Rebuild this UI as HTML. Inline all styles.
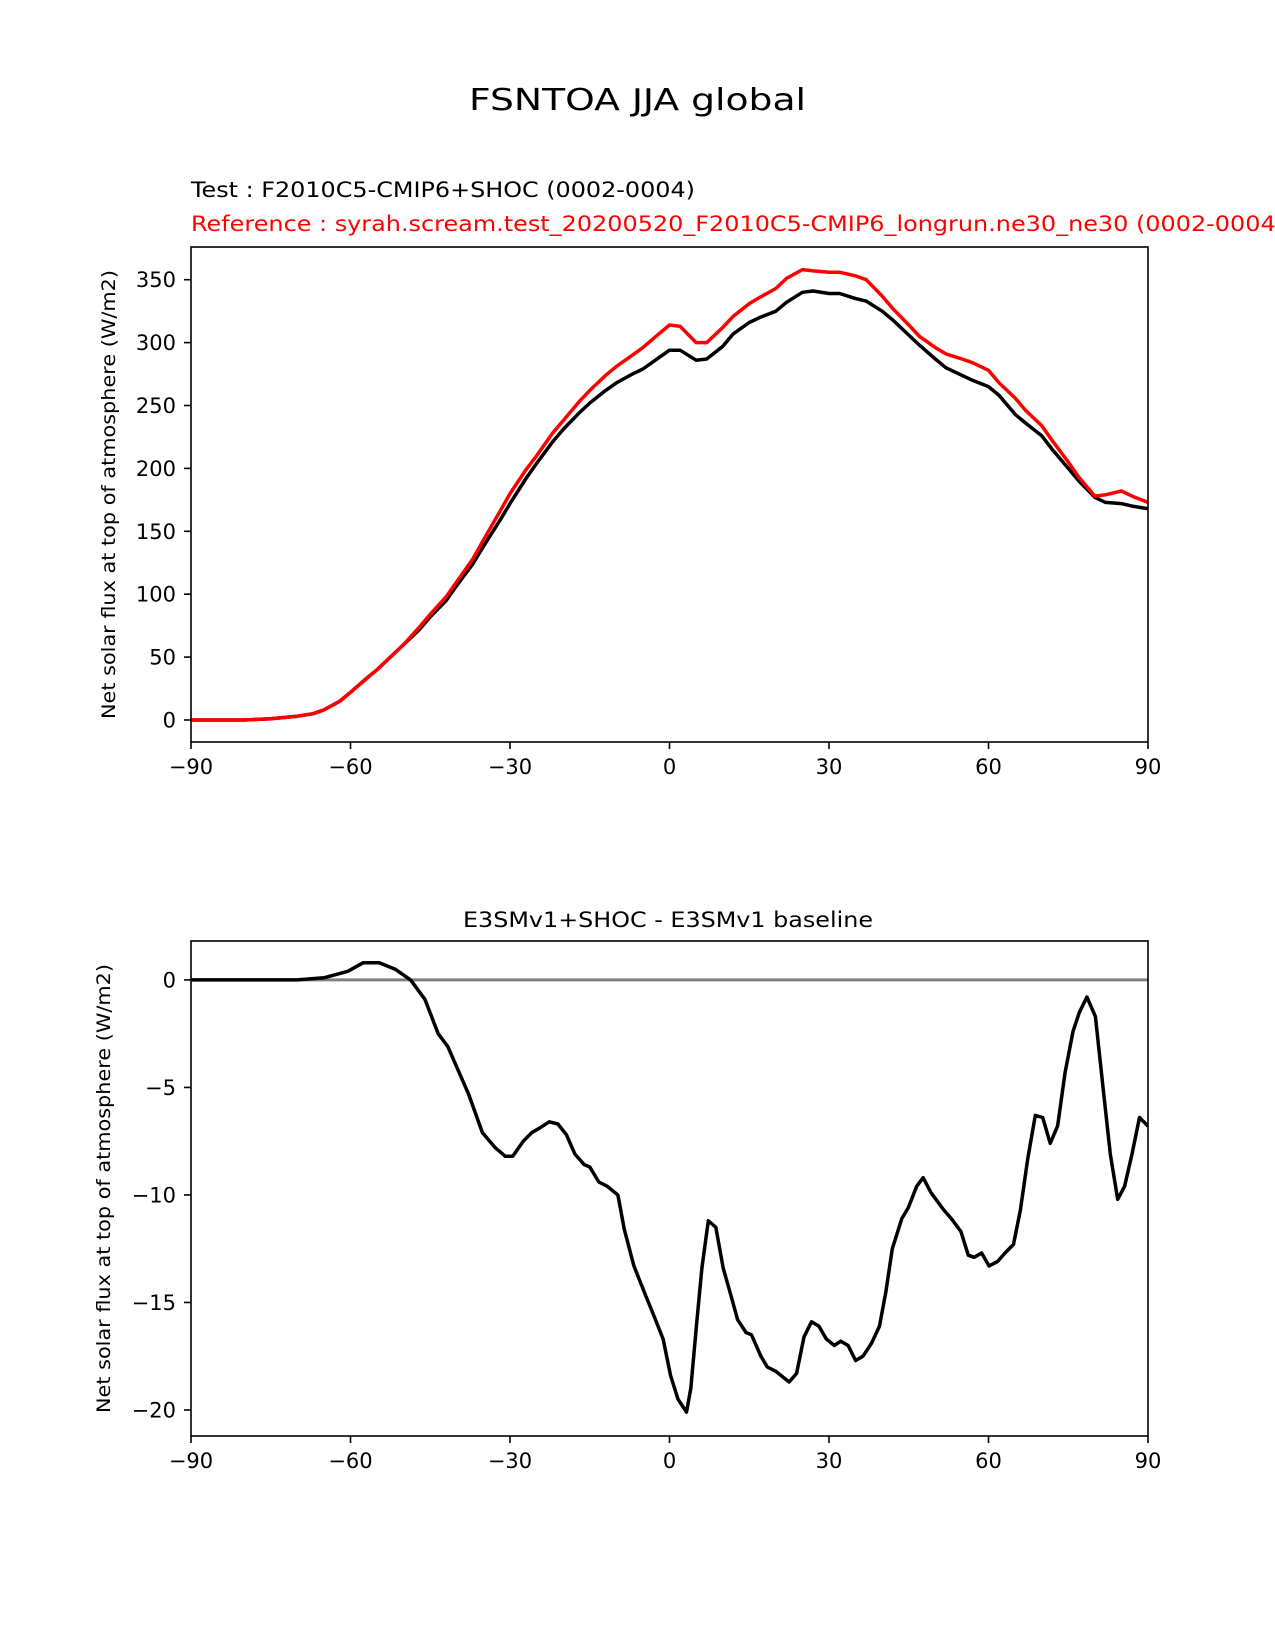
<!DOCTYPE html>
<html><head><meta charset="utf-8"><style>
html,body{margin:0;padding:0;background:#fff;}
svg{display:block;font-family:"DejaVu Sans","Liberation Sans",sans-serif;}
</style></head>
<body>
<svg id="fig" width="1275" height="1650" viewBox="0 0 1275 1650">
<text x="637.5" y="110" font-size="30" text-anchor="middle" textLength="337" lengthAdjust="spacingAndGlyphs">FSNTOA JJA global</text>
<text x="191" y="197" font-size="21" textLength="504" lengthAdjust="spacingAndGlyphs">Test : F2010C5-CMIP6+SHOC (0002-0004)</text>
<text x="191" y="231" font-size="21" fill="#ff0000" textLength="1094" lengthAdjust="spacingAndGlyphs">Reference : syrah.scream.test_20200520_F2010C5-CMIP6_longrun.ne30_ne30 (0002-0004)</text>
<text x="668" y="927" font-size="21" text-anchor="middle" textLength="410" lengthAdjust="spacingAndGlyphs">E3SMv1+SHOC - E3SMv1 baseline</text>
<g id="top"></g>
<g id="bot"></g>
</svg>
<script>
const latTop = [-90,-80,-75,-70,-67,-65,-62,-60,-57,-55,-52,-50,-47,-45,-42,-40,-37,-35,-32,-30,-27,-25,-22,-20,-17,-15,-12,-10,-7,-5,-2,0,2,5,7,10,12,15,17,20,22,25,27,30,32,35,37,40,42,45,47,50,52,55,57,60,62,65,67,70,72,75,77,80,82,85,87,90];
const testVals = [0,0,1,3,5,8,15,22,33,40,52,60,72,82,95,107,124,138,158,172,192,204,221,231,244,252,262,268,275,279,288,294,294,286,287,297,307,316,320,325,332,340,341,339,339,335,333,325,318,306,298,287,280,274,270,265,258,243,236,226,215,200,190,177,173,172,170,168];
const refVals = [0,0,1,3,5,8,15,22,33,40,52,60,74,84,98,110,128,143,165,180,199,210,228,238,253,262,274,281,290,296,307,314,313,300,300,312,321,331,336,343,351,358,357,356,356,353,350,337,327,314,305,296,291,287,284,278,268,256,246,234,222,205,193,178,179,182,178,173];
const latDiff = [-90,-70,-65,-60.5,-57.6,-54.6,-51.6,-48.7,-46,-43.5,-41.7,-37.8,-35.2,-32.8,-30.9,-29.5,-27.5,-25.9,-24.5,-22.6,-21,-19.4,-17.8,-16,-15,-13.3,-11.7,-9.7,-8.5,-6.7,-4.6,-2.8,-1.2,0.2,1.6,3.2,4,5.1,6.1,7.3,8.7,10.1,11.7,12.8,14.4,15.4,17.2,18.4,20,22.5,23.9,25.3,26.7,28.1,29.5,31,32.2,33.6,35,36.4,38,39.5,40.7,41.9,43.7,44.9,46.5,47.7,49.2,51.6,53,54.8,56.2,57.3,58.7,60.1,61.7,63.1,64.7,66,67.4,68.8,70.2,71.6,73,74.4,75.9,77.1,78.5,80.1,81.5,82.9,84.3,85.6,87,88.4,90];
const diffVals = [0,0,0.1,0.4,0.8,0.8,0.5,0,-0.9,-2.5,-3.1,-5.3,-7.1,-7.8,-8.2,-8.2,-7.5,-7.1,-6.9,-6.6,-6.7,-7.2,-8.1,-8.6,-8.7,-9.4,-9.6,-10,-11.6,-13.3,-14.6,-15.7,-16.7,-18.4,-19.5,-20.1,-19,-16,-13.4,-11.2,-11.5,-13.4,-14.8,-15.8,-16.4,-16.5,-17.5,-18,-18.2,-18.7,-18.3,-16.6,-15.9,-16.1,-16.7,-17,-16.8,-17,-17.7,-17.5,-16.9,-16.1,-14.5,-12.5,-11.1,-10.6,-9.6,-9.2,-9.9,-10.7,-11.1,-11.7,-12.8,-12.9,-12.7,-13.3,-13.1,-12.7,-12.3,-10.7,-8.3,-6.3,-6.4,-7.6,-6.8,-4.3,-2.4,-1.5,-0.8,-1.7,-4.9,-8.1,-10.2,-9.6,-8.1,-6.4,-6.8];
const xTicks = [-90,-60,-30,0,30,60,90];
const yTicksTop = [0,50,100,150,200,250,300,350];
const yTicksBot = [0,-5,-10,-15,-20];

const NS='http://www.w3.org/2000/svg';
function mk(tag,attrs,parent){const e=document.createElementNS(NS,tag);for(const k in attrs)e.setAttribute(k,attrs[k]);parent.appendChild(e);return e;}
function fmt(v){return v<0?'\u2212'+Math.abs(v):String(v);}
function panel(g,x0,x1,y0,y1,ymin,ymax,yticks,labY,labX){
  const sx=v=>x0+(v+90)/180*(x1-x0);
  const sy=v=>y1-(v-ymin)/(ymax-ymin)*(y1-y0);
  xTicks.forEach(t=>{
    const l=mk('line',{x1:sx(t),x2:sx(t),y1:y1,y2:y1+7,stroke:'#000','stroke-width':1.6},g);
    
    
    const tx=mk('text',{x:sx(t),y:y1+32,'font-size':21,'text-anchor':'middle'},g);
    tx.textContent=fmt(t);
    
    
  });
  yticks.forEach(t=>{
    const l=mk('line',{x1:x0-7,x2:x0,y1:sy(t),y2:sy(t),stroke:'#000','stroke-width':1.6},g);
    
    
    const tx=mk('text',{x:x0-15,y:sy(t)+7.5,'font-size':21,'text-anchor':'end'},g);
    tx.textContent=fmt(t);
    
    
  });
  const yl=mk('text',{x:0,y:0,'font-size':19,'text-anchor':'middle',textLength:449,lengthAdjust:'spacingAndGlyphs',transform:`translate(${labX},${labY}) rotate(-90)`},g);
  yl.textContent='Net solar flux at top of atmosphere (W/m2)';
  
  
  return {sx,sy};
}
function line(g,xs,ys,sx,sy,color,name,clip){
  const d=xs.map((x,i)=>(i?'L':'M')+sx(x).toFixed(1)+','+sy(ys[i]).toFixed(1)).join('');
  const p=mk('path',{d,fill:'none',stroke:color,'stroke-width':3.5,'stroke-linejoin':'round','clip-path':clip},g);
  
  
}
const defs=mk('defs',{},document.getElementById('fig'));
const c1=mk('clipPath',{id:'c1'},defs);mk('rect',{x:191,y:247,width:957,height:495},c1);
const c2=mk('clipPath',{id:'c2'},defs);mk('rect',{x:191,y:941,width:957,height:495},c2);

const gt=document.getElementById('top');
const a=panel(gt,191,1148,247,742,-17.5,376,yTicksTop,494.5,115);
line(gt,latTop,testVals,a.sx,a.sy,'#000','test-line','url(#c1)');
line(gt,latTop,refVals,a.sx,a.sy,'#ff0000','reference-line','url(#c1)');
const r1=mk('rect',{x:191,y:247,width:957,height:495,fill:'none',stroke:'#000','stroke-width':1.6},gt);



const gb=document.getElementById('bot');
const b=panel(gb,191,1148,941,1436,-21.21,1.81,yTicksBot,1188.5,110);
const z=mk('line',{x1:191,x2:1148,y1:b.sy(0),y2:b.sy(0),stroke:'#808080','stroke-width':3},gb);


line(gb,latDiff,diffVals,b.sx,b.sy,'#000','difference-line','url(#c2)');
const r2=mk('rect',{x:191,y:941,width:957,height:495,fill:'none',stroke:'#000','stroke-width':1.6},gb);


</script>
</body></html>
